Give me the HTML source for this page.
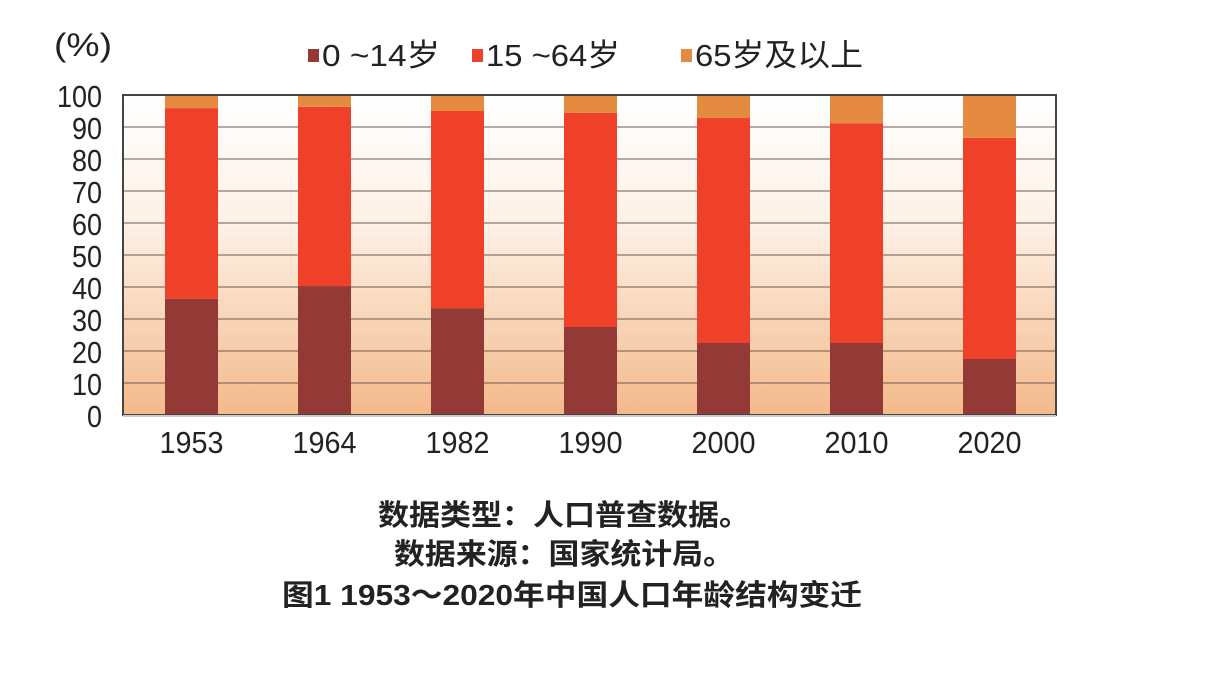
<!DOCTYPE html>
<html><head><meta charset="utf-8"><style>
body{margin:0;background:#fff;}
svg text{font-family:"Liberation Sans","Noto Sans CJK SC",sans-serif;}
</style></head><body>
<svg id="chart" width="1207" height="685" viewBox="0 0 1207 685" xmlns="http://www.w3.org/2000/svg">
<defs><linearGradient id="bg" x1="0" y1="0" x2="0" y2="1">
<stop offset="0" stop-color="#ffffff"/><stop offset="0.4" stop-color="#fdf1e6"/><stop offset="1" stop-color="#f4b98a"/></linearGradient></defs>
<rect x="123" y="95" width="933" height="320" fill="url(#bg)"/>
<g id="grid"></g><g id="bars"></g><g id="axes"></g>
<text x="54" y="56" font-size="32" fill="#222" textLength="58" lengthAdjust="spacingAndGlyphs">(%)</text>
<g font-size="31" fill="#222">
<rect x="308" y="49" width="11" height="13" fill="#943a36"/>
<text x="322" y="66" textLength="118" lengthAdjust="spacingAndGlyphs">0 ~14岁</text>
<rect x="472" y="49" width="11" height="13" fill="#ef4129"/>
<text x="486" y="66" textLength="134" lengthAdjust="spacingAndGlyphs">15 ~64岁</text>
<rect x="681" y="49" width="11" height="13" fill="#e58b41"/>
<text x="695" y="66" textLength="168" lengthAdjust="spacingAndGlyphs">65岁及以上</text>
</g>
<g fill="#222" font-size="29" font-weight="bold">
<text x="378" y="525" textLength="372" lengthAdjust="spacingAndGlyphs" style="font-family:'Noto Sans CJK SC',sans-serif">数据类型：人口普查数据。</text>
<text x="394" y="564" textLength="340" lengthAdjust="spacingAndGlyphs" style="font-family:'Noto Sans CJK SC',sans-serif">数据来源：国家统计局。</text>
<text x="282" y="605" textLength="580" lengthAdjust="spacingAndGlyphs" style="font-family:'Liberation Sans','Noto Sans CJK SC',sans-serif">图1 1953～2020年中国人口年龄结构变迁</text>
</g>
</svg>
<script>
const categories=["1953","1964","1982","1990","2000","2010","2020"];
const young=[36.3,40.3,33.4,27.5,22.5,22.5,17.5];
const working=[59.6,56.0,61.6,66.9,70.3,68.7,69.1];
const elderly=[4.1,3.7,5.0,5.6,7.2,8.8,13.4];
const yTicks=[0,10,20,30,40,50,60,70,80,90,100];
const colors=["#943a36","#ef4129","#e58b41"];
const NS="http://www.w3.org/2000/svg";
const L=123,R=1056,T=95,B=415;
const y=v=>B-(v/100)*(B-T);
const step=133;
const x=i=>191.5+step*i;
const bw=53;
function mk(tag,attrs,parent){const e=document.createElementNS(NS,tag);for(const k in attrs)e.setAttribute(k,attrs[k]);parent.appendChild(e);return e;}
const grid=document.getElementById('grid'),bars=document.getElementById('bars'),axes=document.getElementById('axes');
yTicks.forEach(t=>{
  if(t>0&&t<100){const g=mk('line',{x1:L,x2:R,y1:y(t),y2:y(t),stroke:'#6b5a50','stroke-width':1},grid);
  
  }
  const w=String(t).length*15;
  const tx=mk('text',{x:102-w,y:y(t)+12,'font-size':31,fill:'#222',textLength:w,lengthAdjust:'spacingAndGlyphs'},axes);
  tx.textContent=t;
  
  
});
categories.forEach((c,i)=>{
  const segs=[young[i],working[i],elderly[i]];let acc=0;
  const names=['0-14','15-64','65plus'];
  segs.forEach((v,j)=>{
    const r=mk('rect',{x:x(i)-bw/2,y:y(acc+v),width:bw,height:y(acc)-y(acc+v),fill:colors[j]},bars);
    
    
    acc+=v;
  });
  const tx=mk('text',{x:x(i)-32,y:453,'font-size':31,fill:'#222',textLength:64,lengthAdjust:'spacingAndGlyphs'},axes);
  tx.textContent=c;
  
  
});
const fr=mk('rect',{x:L,y:T,width:R-L,height:B-T,fill:'none',stroke:'#444','stroke-width':2},axes);


const base=mk('line',{x1:L,x2:R,y1:B+1,y2:B+1,stroke:'#ccc','stroke-width':2},axes);


</script>
</body></html>
